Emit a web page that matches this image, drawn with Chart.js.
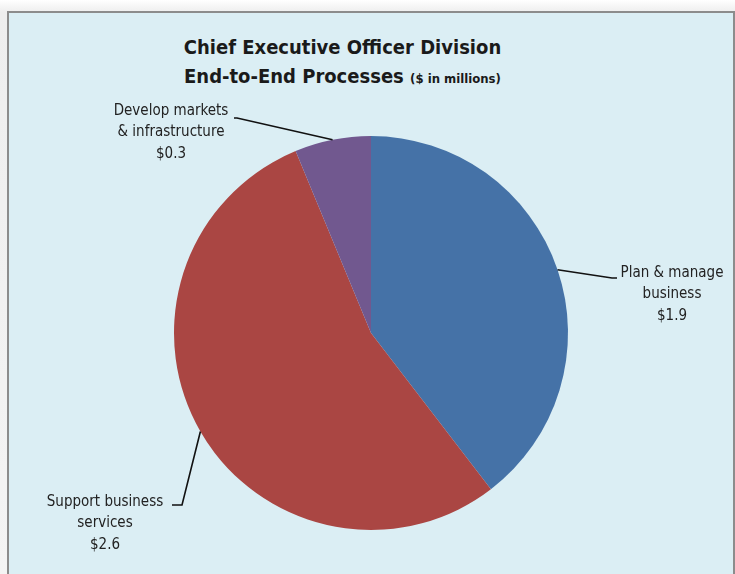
<!DOCTYPE html>
<html>
<head>
<meta charset="utf-8">
<script src="https://cdn.jsdelivr.net/npm/chart.js@4/dist/chart.umd.min.js"></script>
<style>
  html, body { margin: 0; padding: 0; }
  body { width: 735px; height: 574px; overflow: hidden; position: relative;
         background: linear-gradient(#ffffff, #eeeeee 12px, #f4f4f4); }
  #frame { position: absolute; left: 7px; top: 11px; width: 724px; height: 580px;
           background: #dbeef4; border: 2px solid #8c8c8c; border-bottom: none; }
  #title { position: absolute; left: 0; width: 685px; top: 33px; text-align: center;
           font-family: "Liberation Sans Narrow", "DejaVu Sans Condensed", "Open Sans", sans-serif;
           font-weight: bold; color: #1a1a1a; font-size: 20px; line-height: 29px; }
  #title small { font-size: 13px; }
  #wrap { position: absolute; left: 0; top: 0; width: 735px; height: 574px; }
</style>
</head>
<body>
<div id="frame"></div>
<div id="title">Chief Executive Officer Division<br>End-to-End Processes <small>($ in millions)</small></div>
<div id="wrap"><canvas id="c" width="735" height="574"></canvas></div>
<script>
// Processes and spending, $ millions
const categories = ["Plan & manage business", "Support business services", "Develop markets & infrastructure"];
const labelLines = [["Plan & manage", "business"], ["Support business", "services"], ["Develop markets", "& infrastructure"]];
const values = [1.9, 2.6, 0.3];
const colors = ["#4572a7", "#aa4643", "#71588f"];

// Callout placement for each slice: leader elbow and text centre, relative to pie centre
const callouts = [
  { elbow: [241, -55], end: [246, -55], text: [301, -60] },
  { elbow: [-189, 172], end: [-199, 172], text: [-266, 169] },
  { elbow: [-134, -215], end: [-137, -215], text: [-200, -222] }
];

const calloutPlugin = {
  id: "callouts",
  afterDatasetsDraw(chart) {
    const ctx = chart.ctx;
    const arcs = chart.getDatasetMeta(0).data;
    ctx.save();
    arcs.forEach((arc, i) => {
      const p = arc.getProps(["x", "y", "startAngle", "endAngle", "outerRadius"], true);
      const mid = (p.startAngle + p.endAngle) / 2;
      const sx = p.x + Math.cos(mid) * p.outerRadius;
      const sy = p.y + Math.sin(mid) * p.outerRadius;
      const c = callouts[i];
      ctx.strokeStyle = "#111";
      ctx.lineWidth = 1.6;
      ctx.beginPath();
      ctx.moveTo(sx, sy);
      ctx.lineTo(p.x + c.elbow[0], p.y + c.elbow[1]);
      ctx.lineTo(p.x + c.end[0], p.y + c.end[1]);
      ctx.stroke();
      ctx.fillStyle = "#222";
      ctx.font = '15px "Liberation Sans Narrow", "DejaVu Sans Condensed", "Open Sans", sans-serif';
      ctx.textAlign = "center";
      ctx.textBaseline = "middle";
      const lines = labelLines[i].concat(["$" + values[i].toFixed(1)]);
      lines.forEach((t, k) => {
        ctx.fillText(t, p.x + c.text[0], p.y + c.text[1] + k * 21.5);
      });
    });
    ctx.restore();
  }
};

new Chart(document.getElementById("c"), {
  type: "pie",
  data: {
    labels: categories,
    datasets: [{
      data: values,
      backgroundColor: colors,
      borderColor: colors,
      borderWidth: 0
    }]
  },
  options: {
    responsive: false,
    animation: false,
    layout: { padding: { left: 174, right: 167, top: 136, bottom: 44 } },
    plugins: { legend: { display: false }, tooltip: { enabled: false }, title: { display: false } }
  },
  plugins: [calloutPlugin]
});
</script>
</body>
</html>
